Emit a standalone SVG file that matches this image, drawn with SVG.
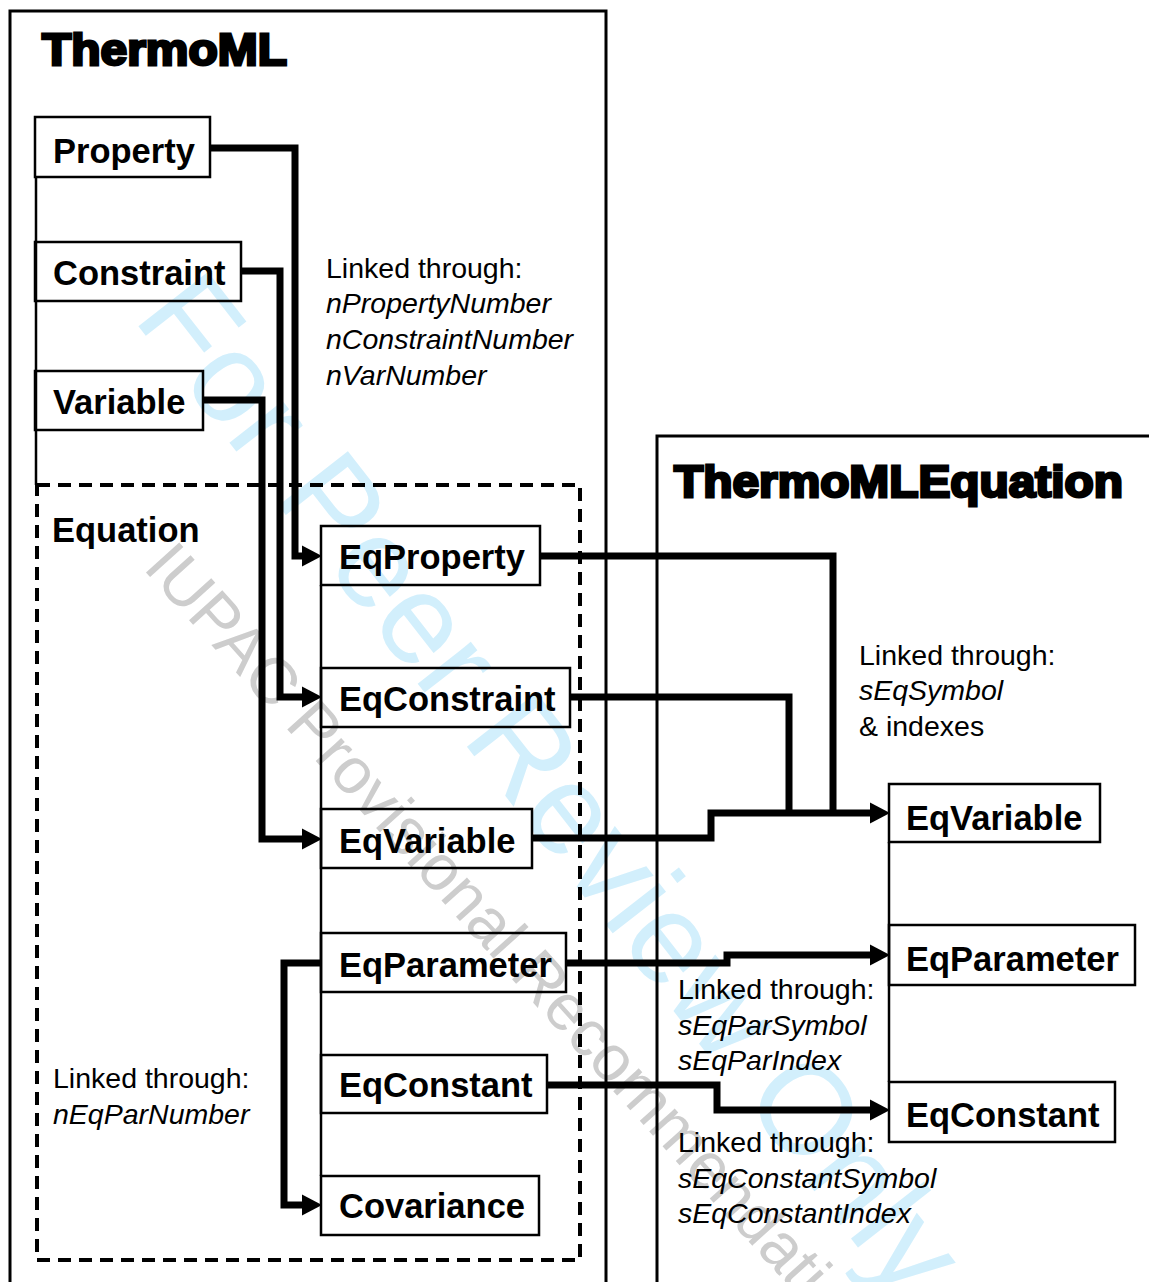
<svg xmlns="http://www.w3.org/2000/svg" width="1149" height="1282" viewBox="0 0 1149 1282">
<defs>
<style>
.frame{fill:none;stroke:#000;stroke-width:3}
.box{fill:none;stroke:#000;stroke-width:2.5}
.tree{fill:none;stroke:#000;stroke-width:2.5}
.dash{fill:none;stroke:#000;stroke-width:4;stroke-dasharray:13 8}
.conn{fill:none;stroke:#000;stroke-width:7;stroke-linejoin:miter;stroke-linecap:butt}
.lbl{font-family:"Liberation Sans",Arial,sans-serif;font-weight:bold;font-size:34.5px;fill:#000}
.title{font-family:"Liberation Sans",Arial,sans-serif;font-weight:bold;font-size:44px;fill:#000;stroke:#000;stroke-width:2.8}
.note{font-family:"Liberation Sans",Arial,sans-serif;font-size:28.5px;fill:#000}
.it{font-style:italic}
.wm1{font-family:"Liberation Sans",Arial,sans-serif;font-size:128px;fill:#d2effc}
.wm2{font-family:"Liberation Sans",Arial,sans-serif;font-size:65px;fill:#cdcdcd}
</style>
<marker id="arr" markerUnits="userSpaceOnUse" markerWidth="20" markerHeight="22" refX="0" refY="10" orient="auto" viewBox="0 0 19 20">
<path d="M0,0 L19,10 L0,20 z" fill="#000"/>
</marker>
</defs>
<rect width="1149" height="1282" fill="#fff"/>
<g id="watermark">
<text class="wm1" transform="translate(132,318) rotate(52)">For Peer Review Only</text>
<text class="wm2" transform="translate(142,568) rotate(48)">IUPAC Provisional Recommendations</text>
</g>
<g id="thermoml">
<path class="frame" d="M10,1282 V11 H606 V1282"/>
<text class="title" x="42" y="65" textLength="245" lengthAdjust="spacingAndGlyphs">ThermoML</text>
</g>
<g id="thermomlequation">
<path class="frame" d="M657,1282 V436 H1149"/>
<text class="title" x="674" y="497" textLength="449" lengthAdjust="spacingAndGlyphs">ThermoMLEquation</text>
</g>
<g id="equation">
<rect class="dash" x="37" y="485" width="543" height="775"/>
<text class="lbl" x="52" y="542">Equation</text>
</g>
<g id="trees">
<path class="tree" d="M36,177 V485"/>
<path class="tree" d="M321,585 V1176"/>
<path class="tree" d="M889,842 V1082"/>
</g>
<g id="node-property"><rect class="box" x="35" y="117" width="175" height="60"/><text class="lbl" x="53" y="163">Property</text></g>
<g id="node-constraint"><rect class="box" x="35" y="242" width="206" height="59"/><text class="lbl" x="53" y="285">Constraint</text></g>
<g id="node-variable"><rect class="box" x="35" y="371" width="168" height="59"/><text class="lbl" x="53" y="414">Variable</text></g>
<g id="node-eqproperty"><rect class="box" x="321" y="526" width="219" height="59"/><text class="lbl" x="339" y="569">EqProperty</text></g>
<g id="node-eqconstraint"><rect class="box" x="321" y="668" width="249" height="59"/><text class="lbl" x="339" y="711">EqConstraint</text></g>
<g id="node-eqvariable"><rect class="box" x="321" y="809" width="211" height="59"/><text class="lbl" x="339" y="853">EqVariable</text></g>
<g id="node-eqparameter"><rect class="box" x="321" y="933" width="245" height="59"/><text class="lbl" x="339" y="977">EqParameter</text></g>
<g id="node-eqconstant"><rect class="box" x="321" y="1055" width="226" height="58"/><text class="lbl" x="339" y="1097">EqConstant</text></g>
<g id="node-covariance"><rect class="box" x="321" y="1176" width="218" height="59"/><text class="lbl" x="339" y="1218">Covariance</text></g>
<g id="node-r-eqvariable"><rect class="box" x="889" y="784" width="211" height="58"/><text class="lbl" x="906" y="830">EqVariable</text></g>
<g id="node-r-eqparameter"><rect class="box" x="889" y="925" width="246" height="60"/><text class="lbl" x="906" y="971">EqParameter</text></g>
<g id="node-r-eqconstant"><rect class="box" x="889" y="1082" width="226" height="60"/><text class="lbl" x="906" y="1127">EqConstant</text></g>
<g id="connectors">
<path class="conn" d="M210,148 H295 V556 H302" marker-end="url(#arr)"/>
<path class="conn" d="M241,271 H280 V697 H302" marker-end="url(#arr)"/>
<path class="conn" d="M203,400 H262 V839 H302" marker-end="url(#arr)"/>
<path class="conn" d="M321,963 H284 V1205 H302" marker-end="url(#arr)"/>
<path class="conn" d="M540,556 H833 V816"/>
<path class="conn" d="M570,697 H789 V816"/>
<path class="conn" d="M532,838 H711 V813 H870" marker-end="url(#arr)"/>
<path class="conn" d="M566,963 H727 V955 H870" marker-end="url(#arr)"/>
<path class="conn" d="M547,1085 H717 V1110 H870" marker-end="url(#arr)"/>
</g>
<g id="labels">
<text class="note" x="326" y="278">Linked through:</text>
<text class="note it" x="326" y="313">nPropertyNumber</text>
<text class="note it" x="326" y="349">nConstraintNumber</text>
<text class="note it" x="326" y="385">nVarNumber</text>
<text class="note" x="859" y="665">Linked through:</text>
<text class="note it" x="859" y="700">sEqSymbol</text>
<text class="note" x="859" y="736">&amp; indexes</text>
<text class="note" x="678" y="999">Linked through:</text>
<text class="note it" x="678" y="1035">sEqParSymbol</text>
<text class="note it" x="678" y="1070">sEqParIndex</text>
<text class="note" x="678" y="1152">Linked through:</text>
<text class="note it" x="678" y="1188">sEqConstantSymbol</text>
<text class="note it" x="678" y="1223">sEqConstantIndex</text>
<text class="note" x="53" y="1088">Linked through:</text>
<text class="note it" x="53" y="1124">nEqParNumber</text>
</g>
</svg>
